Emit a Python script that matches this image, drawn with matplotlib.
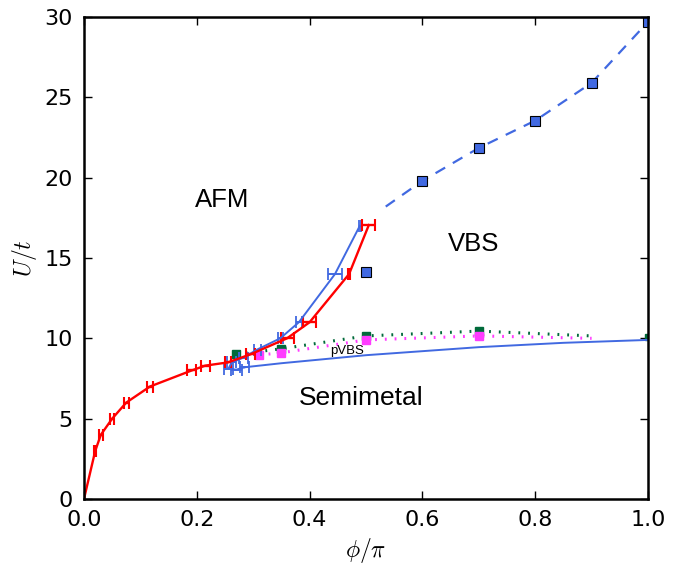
import matplotlib
matplotlib.use('Agg')
import matplotlib.pyplot as plt

# red boundary (AFM)
red_phi = [0.0, 0.02, 0.03, 0.05, 0.075, 0.117, 0.191, 0.215, 0.255, 0.295, 0.36, 0.40, 0.47, 0.505]
red_U = [0.0, 3.0, 4.0, 5.0, 6.0, 7.0, 8.0, 8.3, 8.5, 9.0, 10.0, 11.0, 14.0, 17.05]
red_err = [0.0, 0.002, 0.003, 0.004, 0.004, 0.005, 0.008, 0.008, 0.005, 0.008, 0.0115, 0.0115, 0.002, 0.0115]

# blue boundary (solid), points with error bars
blue_phi = [0.489, 0.445, 0.381, 0.348, 0.307, 0.283, 0.262, 0.256, 0.27, 0.285]
blue_U = [17.0, 14.0, 11.0, 10.0, 9.3, 8.8, 8.5, 8.1, 8.05, 8.2]
blue_err = [0.002, 0.012, 0.005, 0.004, 0.006, 0.008, 0.008, 0.008, 0.01, 0.008]
# semimetal boundary continuation
semi_phi = [0.285, 0.35, 0.5, 0.7, 0.85, 1.0]
semi_U = [8.2, 8.45, 8.95, 9.45, 9.72, 9.9]

# blue squares and dashed curve
sq_phi = [0.5, 0.6, 0.7, 0.8, 0.9, 1.0]
sq_U = [14.1, 19.8, 21.85, 23.55, 25.9, 29.7]
dash_phi = [0.535, 0.6, 0.7, 0.8, 0.9, 1.0]
dash_U = [18.2, 19.8, 21.85, 23.55, 25.9, 29.7]

# pVBS lines
green_phi = [0.27, 0.35, 0.5, 0.7, 0.9]
green_U = [9.0, 9.35, 10.15, 10.45, 10.15]
mag_phi = [0.31, 0.35, 0.5, 0.7, 0.9]
mag_U = [8.96, 9.1, 9.9, 10.15, 10.0]

BLUE = '#4169e1'
GREEN = '#006a3a'
MAGENTA = '#ff3cff'

plt.rcParams['mathtext.fontset'] = 'cm'
plt.rcParams['xtick.direction'] = 'in'
plt.rcParams['ytick.direction'] = 'in'

fig = plt.figure(figsize=(6.98, 5.76), dpi=100)
ax = fig.add_axes([0.1203, 0.1337, 0.8081, 0.8368])

ax.plot(dash_phi, dash_U, '--', color=BLUE, lw=1.6, dashes=(5, 4))
ax.plot(green_phi, green_U, ':', color=GREEN, lw=2.2, dashes=(0.6, 2.6))
ax.plot(mag_phi, mag_U, ':', color=MAGENTA, lw=2.2, dashes=(0.6, 2.6))
ax.plot(green_phi[:4], green_U[:4], 's', color=GREEN, ms=5.5, mec=GREEN)
ax.plot(mag_phi[:4], mag_U[:4], 's', color=MAGENTA, ms=5.5, mec=MAGENTA)
ax.plot([1.0], [10.1], 's', color=GREEN, ms=4, mec=GREEN)

ax.plot(semi_phi, semi_U, '-', color=BLUE, lw=1.4)
ax.errorbar(blue_phi, blue_U, xerr=blue_err, color=BLUE, lw=1.4, capsize=4, capthick=1.3)
ax.errorbar(red_phi, red_U, xerr=red_err, color='red', lw=1.7, capsize=4, capthick=1.5)
ax.plot(sq_phi, sq_U, 's', color=BLUE, ms=7, mec='black', mew=0.8)

ax.text(0.245, 18.6, 'AFM', fontsize=18.5, family='Liberation Sans', ha='center', va='center')
ax.text(0.69, 15.9, 'VBS', fontsize=18.5, family='Liberation Sans', ha='center', va='center')
ax.text(0.491, 6.3, 'Semimetal', fontsize=19, family='Liberation Sans', ha='center', va='center')
ax.text(0.466, 9.2, 'pVBS', fontsize=9.5, family='Liberation Sans', ha='center', va='center')

ax.set_xlim(0, 1)
ax.set_ylim(0, 30)
ax.set_xticks([0.0, 0.2, 0.4, 0.6, 0.8, 1.0])
ax.set_yticks([0, 5, 10, 15, 20, 25, 30])
ax.tick_params(top=True, right=True, labelsize=16, length=6, width=1, pad=8)
for s in ax.spines.values():
    s.set_linewidth(1.8)
ax.set_xlabel(r'$\phi/\pi$', fontsize=17)
ax.set_ylabel(r'$U/t$', fontsize=17)

fig.savefig('out.png', dpi=100)
